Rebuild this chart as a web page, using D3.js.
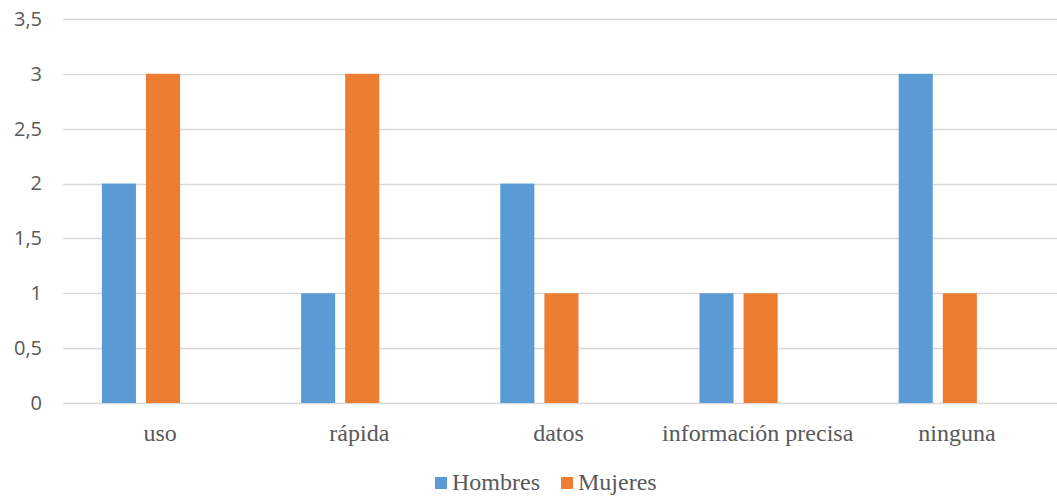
<!DOCTYPE html>
<html>
<head>
<meta charset="utf-8">
<script src="https://cdn.jsdelivr.net/npm/d3@7"></script>
<style>
  html, body { margin: 0; padding: 0; background: #fff; }
  svg { display: block; }
</style>
</head>
<body>
<svg id="chart" width="1057" height="500"></svg>
<script>
// Chart data
const categories = ["uso", "rápida", "datos", "información precisa", "ninguna"];
const seriesNames = ["Hombres", "Mujeres"];
const hombres = [2, 1, 2, 1, 3];
const mujeres = [3, 3, 1, 1, 1];
const yTicks = [0, 0.5, 1, 1.5, 2, 2.5, 3, 3.5];
const colors = ["#5B9BD5", "#ED7D31"];

const svg = d3.select("#chart");
const plot = { left: 63, right: 1057, top: 19, bottom: 403 };

// One full-width band per category; labels sit at band centres
const x0 = d3.scaleBand().domain(categories).range([60.5, 1056.5]).padding(0);
// Bar pair inside each band, nudged toward the left of the band
const x1 = d3.scaleBand().domain(seriesNames).range([0, x0.bandwidth()])
  .paddingInner(0.227).paddingOuter(1.373).align(0.342);
const y = d3.scaleLinear().domain([0, 3.5]).range([plot.bottom, plot.top]);

const fmt = d => String(d).replace(".", ",");

// Horizontal gridlines
svg.append("g").selectAll("line").data(yTicks).join("line")
  .attr("x1", plot.left).attr("x2", plot.right)
  .attr("y1", d => Math.round(y(d)) + 0.5).attr("y2", d => Math.round(y(d)) + 0.5)
  .attr("stroke", "#D9D9D9").attr("stroke-width", 1.4);

// Y axis labels
const yAxis = d3.axisLeft(y).tickValues(yTicks).tickFormat(fmt).tickSize(0).tickPadding(0);
const gy = svg.append("g").attr("transform", `translate(42,0)`).call(yAxis);
gy.select(".domain").remove();
gy.selectAll("text")
  .attr("fill", "#595959")
  .style("font-family", "'Open Sans', sans-serif")
  .style("font-size", "20px");

// Bars
const data = categories.map((c, i) => ({ cat: c, values: [hombres[i], mujeres[i]] }));
const groups = svg.append("g").selectAll("g").data(data).join("g")
  .attr("transform", d => `translate(${x0(d.cat)},0)`);
groups.selectAll("rect")
  .data(d => d.values.map((v, j) => ({ name: seriesNames[j], value: v, j })))
  .join("rect")
  .attr("x", d => x1(d.name))
  .attr("width", x1.bandwidth())
  .attr("y", d => y(d.value))
  .attr("height", d => y(0) - y(d.value))
  .attr("fill", d => colors[d.j]);

// Category axis labels
const xAxis = d3.axisBottom(x0).tickSize(0).tickPadding(0);
const gx = svg.append("g").attr("transform", `translate(0,${plot.bottom})`).call(xAxis);
gx.select(".domain").remove();
gx.selectAll("text")
  .attr("y", 38).attr("dy", 0)
  .attr("fill", "#595959")
  .style("font-family", "'Liberation Serif', 'Times New Roman', serif")
  .style("font-size", "24px");

// Legend
const legend = svg.append("g").attr("transform", "translate(435,483)");
const legendX = [0, 126];
seriesNames.forEach((name, i) => {
  const g = legend.append("g").attr("transform", `translate(${legendX[i]},0)`);
  g.append("rect").attr("x", 0).attr("y", -6).attr("width", 12).attr("height", 12)
    .attr("fill", colors[i]);
  g.append("text").attr("x", 17).attr("y", 6.5)
    .attr("fill", "#595959")
    .style("font-family", "'Liberation Serif', 'Times New Roman', serif")
    .style("font-size", "24px")
    .text(name);
});
</script>
</body>
</html>
